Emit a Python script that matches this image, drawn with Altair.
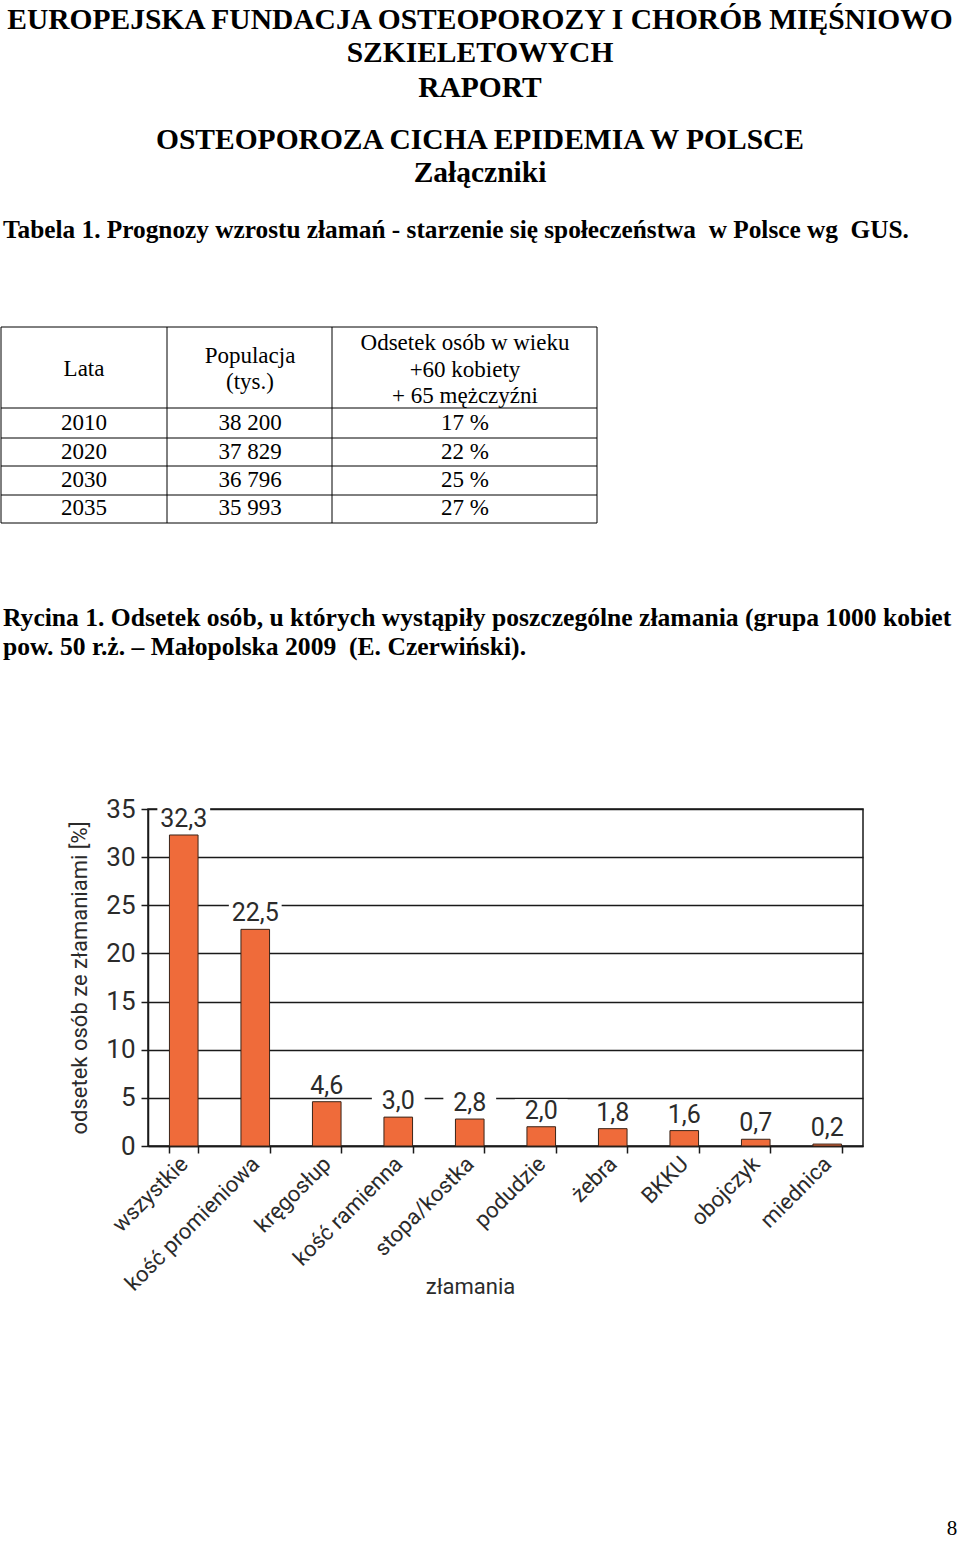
import altair as alt
import pandas as pd

# ---------------- data ----------------
categories = ["wszystkie", "kość promieniowa", "kręgosłup", "kość ramienna",
              "stopa/kostka", "podudzie", "żebra", "BKKU", "obojczyk", "miednica"]
values = [32.3, 22.5, 4.6, 3.0, 2.8, 2.0, 1.8, 1.6, 0.7, 0.2]

years = ["2010", "2020", "2030", "2035"]
population = ["38 200", "37 829", "36 796", "35 993"]
share = ["17 %", "22 %", "25 %", "27 %"]

header_lines = ["EUROPEJSKA FUNDACJA OSTEOPOROZY I CHORÓB MIĘŚNIOWO",
                "SZKIELETOWYCH", "RAPORT",
                "OSTEOPOROZA CICHA EPIDEMIA W POLSCE", "Załączniki"]
table_caption = "Tabela 1. Prognozy wzrostu złamań - starzenie się społeczeństwa \u00a0w Polsce wg \u00a0GUS."
col_headers = [["Lata"], ["Populacja", "(tys.)"],
               ["Odsetek osób w wieku", "+60 kobiety", "+ 65 mężczyźni"]]
fig_caption = ["Rycina 1. Odsetek osób, u których wystąpiły poszczególne złamania (grupa 1000 kobiet",
               "pow. 50 r.ż. – Małopolska 2009 \u00a0(E. Czerwiński)."]
page_number = "8"

df = pd.DataFrame({
    "cat": categories,
    "val": values,
    "label": [f"{v:.1f}".replace(".", ",") for v in values],
})

# ---------------- layout ----------------
PX, PY = 148, 809          # plot origin on the page
W, H = 715, 337            # plot size
SERIF = "Liberation Serif, Times New Roman, serif"
NARROW = "Roboto, Liberation Sans, sans-serif"
GRAY = "#2b2b2b"
LABEL_SIZE = 25


def txt(s, x, y, size, weight="normal", align="center", font=SERIF, color="black"):
    return alt.Chart(alt.Data(values=[{}])).mark_text(
        text=s, fontSize=size, fontWeight=weight, font=font, align=align,
        baseline="alphabetic", color=color
    ).encode(x=alt.value(x - PX), y=alt.value(y - PY))


def rule(x1, x2, y1, y2, w=1.0):
    return alt.Chart(alt.Data(values=[{}])).mark_rule(color="black", strokeWidth=w).encode(
        x=alt.value(x1 - PX), x2=alt.value(x2 - PX), y=alt.value(y1 - PY), y2=alt.value(y2 - PY))


layers = []

# header
header_y = [29, 62, 97, 149, 182]
for s, y in zip(header_lines, header_y):
    layers.append(txt(s, 480, y, 29.5, weight="bold"))
layers.append(txt(table_caption, 3, 238, 25.3, weight="bold", align="left"))

# table grid
T_L, T_R, T_T, T_B = 1, 597, 327, 523
col_x = [T_L, 167, 332, T_R]
row_y = [T_T, 408, 438, 466, 495, T_B]
for y in row_y:
    layers.append(rule(T_L, T_R, y, y))
for x in col_x:
    layers.append(rule(x, x, T_T, T_B))

col_centers = [84, 250, 465]
header_base = [[376], [363, 389], [350, 377, 403]]
for cx, lines, bases in zip(col_centers, col_headers, header_base):
    for s, b in zip(lines, bases):
        layers.append(txt(s, cx, b, 23))

row_base = [430, 459, 487, 515]
for i, b in enumerate(row_base):
    for cx, col in zip(col_centers, [years, population, share]):
        layers.append(txt(col[i], cx, b, 23))

# figure caption
layers.append(txt(fig_caption[0], 3, 626, 25.6, weight="bold", align="left"))
layers.append(txt(fig_caption[1], 3, 655, 25.6, weight="bold", align="left"))

# page number
layers.append(txt(page_number, 952, 1535, 21))

# ---------------- bar chart ----------------
x_enc = alt.X("cat:N", sort=categories, title="złamania",
              scale=alt.Scale(paddingInner=0.6, paddingOuter=0.3),
              axis=alt.Axis(labelAngle=-45, labelAlign="right", labelBaseline="middle",
                            labelFont=NARROW, labelFontSize=22, labelColor=GRAY,
                            labelPadding=7, labelLimit=0, tickBand="extent", tickSize=7,
                            tickColor="#1a1a1a", tickWidth=1.5,
                            domainColor="#1a1a1a", domainWidth=1.5,
                            titleFont=NARROW, titleFontSize=22, titleFontWeight="normal",
                            titleColor=GRAY, titleX=322, titleY=147,
                            titleBaseline="alphabetic", grid=False))
y_enc = alt.Y("val:Q", title="odsetek osób ze złamaniami [%]",
              scale=alt.Scale(domain=[0, 35], nice=False),
              axis=alt.Axis(values=[0, 5, 10, 15, 20, 25, 30, 35],
                            labelFont=NARROW, labelFontSize=26, labelColor=GRAY,
                            labelPadding=6, tickSize=7, tickColor="#1a1a1a", tickWidth=1.5,
                            domainColor="#1a1a1a", domainWidth=1.5,
                            grid=True, gridColor="#1a1a1a", gridWidth=1.5,
                            titleFont=NARROW, titleFontSize=22, titleFontWeight="normal",
                            titleColor=GRAY, titlePadding=14))

base = alt.Chart(df).encode(x=x_enc, y=y_enc)
# white box behind each value label (interrupts the gridlines like in the original)
label_box = base.mark_point(
    shape="M-1.32,-1.38H1.32V-0.28H-1.32Z", size=1600, filled=True,
    color="white", opacity=1, strokeWidth=0)
bars = base.mark_bar(color="#EF6B3A", stroke="#3a2418", strokeWidth=1)
labels = base.mark_text(dy=-8, baseline="alphabetic", font=NARROW, fontSize=LABEL_SIZE,
                        color=GRAY).encode(text="label:N")

chart = alt.layer(label_box, bars, labels, *layers).properties(
    width=W, height=H,
    padding={"left": PX, "top": PY, "right": 960 - PX - W, "bottom": 1543 - PY - H},
    autosize=alt.AutoSizeParams(type="none"),
    background="white",
).configure_view(stroke="#1a1a1a", strokeWidth=1.5)

chart.save("out.html", embed_options={"renderer": "svg", "actions": False})
